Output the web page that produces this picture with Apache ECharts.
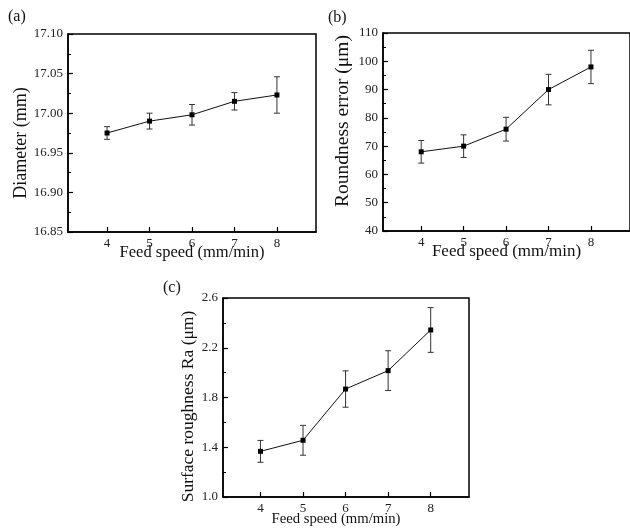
<!DOCTYPE html>
<html>
<head>
<meta charset="utf-8">
<script src="https://cdn.jsdelivr.net/npm/echarts@6/dist/echarts.min.js"></script>
<style>
html,body{margin:0;padding:0;background:#fff;}
#chart{width:630px;height:528px;}
</style>
</head>
<body>
<div id="chart"></div>
<script>
// ---- data ----
const feedSpeed = [4, 5, 6, 7, 8];
const diameter = [16.975, 16.990, 16.998, 17.015, 17.023];
const diameterErr = [0.008, 0.010, 0.013, 0.011, 0.023];
const roundness = [68, 70, 76, 90, 98];
const roundnessErr = [4.0, 4.0, 4.2, 5.4, 5.9];
const roughness = [1.367, 1.456, 1.868, 2.016, 2.343];
const roughnessErr = [0.088, 0.120, 0.146, 0.160, 0.180];
const xTicks = [4, 5, 6, 7, 8];
const panelLabels = ['(a)', '(b)', '(c)'];
const xTitle = 'Feed speed (mm/min)';
const yTitles = ['Diameter (mm)', 'Roundness error (\u03bcm)', 'Surface roughness Ra (\u03bcm)'];

const FONT = '"Liberation Serif", "Times New Roman", serif';
const chart = echarts.init(document.getElementById('chart'), null, {renderer: 'canvas'});

function pts(vals) { return feedSpeed.map((x, i) => [x, vals[i]]); }
function errs(vals, e) { return feedSpeed.map((x, i) => [x, vals[i] - e[i], vals[i] + e[i]]); }

function xAxisCfg(idx, min, max, titleSize, gap, pad) {
  return {
    gridIndex: idx, type: 'value', min: min, max: max,
    axisLine: {show: true, onZero: false, lineStyle: {color: '#000', width: 1.5}},
    axisTick: {show: true, inside: true, length: 5, customValues: xTicks, lineStyle: {color: '#000', width: 1.2}},
    axisLabel: {show: true, customValues: xTicks, margin: 5, color: '#222', fontFamily: FONT, fontSize: 13},
    splitLine: {show: false},
    name: xTitle, nameLocation: 'middle', nameGap: gap, nameMoveOverlap: false,
    nameTextStyle: {color: '#111', fontFamily: FONT, fontSize: titleSize, padding: pad || 0}
  };
}
function yAxisCfg(idx, min, max, interval, dec, title, titleSize, gap, pad) {
  return {
    gridIndex: idx, type: 'value', min: min, max: max, interval: interval,
    axisLine: {show: true, onZero: false, lineStyle: {color: '#000', width: 1.5}},
    axisTick: {show: true, inside: true, length: 5, lineStyle: {color: '#000', width: 1.2}},
    minorTick: {show: true, splitNumber: 2, length: 3, lineStyle: {color: '#000', width: 1}},
    axisLabel: {show: true, margin: 5, color: '#222', fontFamily: FONT, fontSize: 13,
      formatter: v => v.toFixed(dec)},
    splitLine: {show: false},
    name: title, nameLocation: 'middle', nameGap: gap,
    nameTextStyle: {color: '#111', fontFamily: FONT, fontSize: titleSize, padding: pad || 0}
  };
}
function errSeries(idx, data) {
  return {
    type: 'custom', xAxisIndex: idx, yAxisIndex: idx, z: 2,
    data: data,
    renderItem: function (params, api) {
      const x = api.value(0);
      const lo = api.coord([x, api.value(1)]);
      const hi = api.coord([x, api.value(2)]);
      const cap = 3;
      const st = {stroke: '#333', lineWidth: 1};
      return {type: 'group', children: [
        {type: 'line', shape: {x1: lo[0], y1: lo[1], x2: hi[0], y2: hi[1]}, style: st},
        {type: 'line', shape: {x1: lo[0] - cap, y1: lo[1], x2: lo[0] + cap, y2: lo[1]}, style: st},
        {type: 'line', shape: {x1: hi[0] - cap, y1: hi[1], x2: hi[0] + cap, y2: hi[1]}, style: st}
      ]};
    }
  };
}
function lineSeries(idx, data) {
  return {
    type: 'line', xAxisIndex: idx, yAxisIndex: idx, z: 3, data: data,
    symbol: 'rect', symbolSize: 5, itemStyle: {color: '#000'},
    lineStyle: {color: '#111', width: 1}, animation: false
  };
}

const gridBase = {show: true, borderColor: '#000', borderWidth: 1.5, backgroundColor: 'transparent', containLabel: false};

chart.setOption({
  animation: false,
  backgroundColor: '#fff',
  grid: [
    Object.assign({left: 68, top: 34, width: 248, height: 198}, gridBase),
    Object.assign({left: 383, top: 33, width: 249, height: 198}, gridBase),
    Object.assign({left: 223, top: 298, width: 246, height: 199}, gridBase)
  ],
  xAxis: [
    xAxisCfg(0, 3.08, 8.92, 16.5, 12),
    xAxisCfg(1, 3.1, 8.92, 17, 12),
    xAxisCfg(2, 3.12, 8.9, 14.7, 15, [0, 20, 0, 0])
  ],
  yAxis: [
    yAxisCfg(0, 16.85, 17.10, 0.05, 2, yTitles[0], 18, 34, [0, 20, 0, 0]),
    yAxisCfg(1, 40, 110, 10, 0, yTitles[1], 19.5, 30, [0, 0, 0, 22]),
    yAxisCfg(2, 1.0, 2.6, 0.4, 1, yTitles[2], 17.5, 26, [0, 18, 0, 0])
  ],
  graphic: [
    {type: 'text', left: 8, top: 9, style: {text: panelLabels[0], font: '16px ' + FONT, fill: '#111'}},
    {type: 'text', left: 328, top: 10, style: {text: panelLabels[1], font: '16px ' + FONT, fill: '#111'}},
    {type: 'text', left: 163, top: 280, style: {text: panelLabels[2], font: '16px ' + FONT, fill: '#111'}}
  ],
  series: [
    errSeries(0, errs(diameter, diameterErr)),
    lineSeries(0, pts(diameter)),
    errSeries(1, errs(roundness, roundnessErr)),
    lineSeries(1, pts(roundness)),
    errSeries(2, errs(roughness, roughnessErr)),
    lineSeries(2, pts(roughness))
  ]
});
</script>
</body>
</html>
